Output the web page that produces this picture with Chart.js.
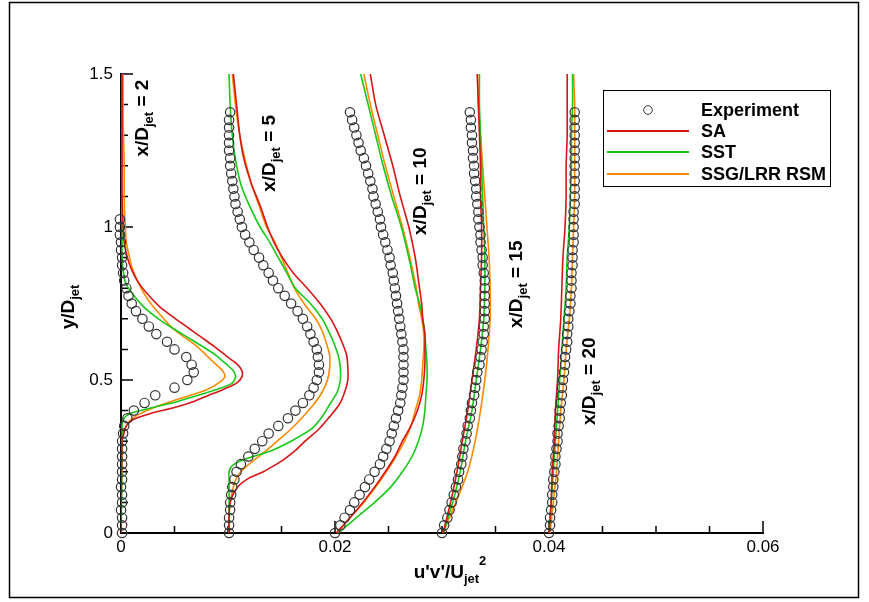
<!DOCTYPE html>
<html>
<head>
<meta charset="utf-8">
<script src="https://cdn.jsdelivr.net/npm/chart.js@4.4.1/dist/chart.umd.min.js"></script>
<style>
  html, body { margin: 0; padding: 0; background: #fff; }
</style>
</head>
<body>
<canvas id="myChart" width="869" height="602"></canvas>
<script>
// stations x/Djet and the shift used to stack the profiles along u'v'/Ujet^2
const stations = [2, 5, 10, 15, 20];
const offsets = [0, 0.01, 0.02, 0.03, 0.04];

// experiment, y/Djet of the measured points
const expY = [0, 0.025, 0.05, 0.075, 0.1, 0.125, 0.15, 0.175, 0.2, 0.225, 0.25, 0.275, 0.3, 0.325, 0.35, 0.375,
  0.4, 0.425, 0.45, 0.475, 0.5, 0.525, 0.55, 0.575, 0.6, 0.625, 0.65, 0.675, 0.7, 0.725, 0.75, 0.775,
  0.8, 0.825, 0.85, 0.875, 0.9, 0.925, 0.95, 0.975, 1.0, 1.025, 1.05, 1.075, 1.1, 1.125, 1.15, 1.175,
  1.2, 1.225, 1.25, 1.275, 1.3, 1.325, 1.35, 1.375];
const exp2 = [0.0001, 0.0001, 0.0001, 0, 0.0001, 0.0001, 0, 0.0001, 0.0001, 0.0001, 0.0001, 0.0001, 0.0001, 0.0002,
  0.0003, 0.0006, 0.0012, 0.0022, 0.0032, 0.0050, 0.0062, 0.0068, 0.0066, 0.0061, 0.0050, 0.0043, 0.0033, 0.0026,
  0.0020, 0.0014, 0.0010, 0.0007, 0.0005, 0.0003, 0.0002, 0.0001, 0.0001, 0, 0, -0.0001, -0.0001, -0.0001];
const exp5 = [0.0001, 0.0001, 0.0001, 0.0002, 0.0002, 0.0003, 0.0004, 0.0006, 0.0008, 0.0012, 0.0019, 0.0025, 0.0032,
  0.0038, 0.0047, 0.0056, 0.0063, 0.0070, 0.0076, 0.0080, 0.0083, 0.0085, 0.0085, 0.0084, 0.0083, 0.0080, 0.0077,
  0.0074, 0.0070, 0.0065, 0.0059, 0.0053, 0.0047, 0.0042, 0.0038, 0.0033, 0.0029, 0.0024, 0.0020, 0.0016, 0.0013,
  0.0011, 0.0009, 0.0007, 0.0006, 0.0005, 0.0004, 0.0003, 0.0002, 0.0002, 0.0001, 0.0001, 0.0001, 0.0001, 0.0001, 0.0002];
const exp10 = [0, 0.0005, 0.0009, 0.0014, 0.0018, 0.0023, 0.0028, 0.0032, 0.0037, 0.0042, 0.0045, 0.0048, 0.0051,
  0.0053, 0.0055, 0.0057, 0.0059, 0.0061, 0.0062, 0.0063, 0.0064, 0.0064, 0.0064, 0.0064, 0.0064, 0.0063, 0.0062,
  0.0061, 0.0060, 0.0059, 0.0058, 0.0057, 0.0056, 0.0055, 0.0054, 0.0052, 0.0051, 0.0049, 0.0047, 0.0045, 0.0043,
  0.0042, 0.0040, 0.0038, 0.0036, 0.0035, 0.0033, 0.0031, 0.0029, 0.0027, 0.0024, 0.0022, 0.0020, 0.0018, 0.0016, 0.0014];
const exp15 = [0, 0.0002, 0.0005, 0.0007, 0.0009, 0.0011, 0.0013, 0.0015, 0.0016, 0.0018, 0.0019, 0.0020, 0.0022,
  0.0023, 0.0024, 0.0026, 0.0027, 0.0028, 0.0030, 0.0031, 0.0032, 0.0033, 0.0035, 0.0036, 0.0037, 0.0038, 0.0039,
  0.0039, 0.0040, 0.0040, 0.0040, 0.0040, 0.0040, 0.0040, 0.0039, 0.0038, 0.0038, 0.0037, 0.0036, 0.0036, 0.0035,
  0.0034, 0.0034, 0.0033, 0.0032, 0.0032, 0.0031, 0.0030, 0.0030, 0.0029, 0.0029, 0.0028, 0.0028, 0.0027, 0.0027, 0.0026];
const exp20 = [0, 0.0001, 0.0001, 0.0002, 0.0003, 0.0003, 0.0004, 0.0004, 0.0005, 0.0006, 0.0006, 0.0007, 0.0008,
  0.0008, 0.0009, 0.0010, 0.0010, 0.0011, 0.0012, 0.0012, 0.0013, 0.0014, 0.0015, 0.0015, 0.0016, 0.0017, 0.0017,
  0.0018, 0.0018, 0.0019, 0.0020, 0.0020, 0.0021, 0.0021, 0.0021, 0.0022, 0.0022, 0.0022, 0.0023, 0.0023, 0.0023,
  0.0023, 0.0023, 0.0024, 0.0024, 0.0024, 0.0024, 0.0024, 0.0024, 0.0024, 0.0024, 0.0024, 0.0024, 0.0024, 0.0024, 0.0024];

// simulations (SA, SST, SSG/LRR RSM), y/Djet per station
const y2 = [0, 0.3, 0.33, 0.35, 0.37, 0.39, 0.41, 0.43, 0.45, 0.47, 0.49, 0.51, 0.53, 0.55, 0.58, 0.61, 0.64, 0.67,
  0.7, 0.74, 0.78, 0.82, 0.86, 0.9, 0.95, 1.0, 1.1, 1.2, 1.35, 1.5];
const sa2 = [0, 0.0001, 0.0003, 0.0005, 0.0011, 0.0027, 0.0050, 0.0068, 0.0082, 0.0096, 0.0108, 0.0113, 0.0113, 0.0109,
  0.0098, 0.0087, 0.0075, 0.0063, 0.0051, 0.0036, 0.0025, 0.0016, 0.0010, 0.0006, 0.0003, 0.0002, 0.0001, 0.0001, 0.0001, 0.0001];
const sst2 = [0, 0.0001, 0.0001, 0.0001, 0.0002, 0.0008, 0.0030, 0.0053, 0.0072, 0.0090, 0.0104, 0.0107, 0.0105, 0.0099,
  0.0089, 0.0076, 0.0062, 0.0048, 0.0035, 0.0021, 0.0011, 0.0004, 0.0002, 0.0001, 0.0001, 0.0001, 0, 0, 0, 0];
const ssg2 = [0, 0.0001, 0.0002, 0.0005, 0.0009, 0.0018, 0.0031, 0.0047, 0.0065, 0.0081, 0.0091, 0.0097, 0.0095, 0.0089,
  0.0080, 0.0071, 0.0059, 0.0048, 0.0040, 0.0030, 0.0022, 0.0016, 0.0011, 0.0008, 0.0005, 0.0004, 0.0003, 0.0003, 0.0002, 0.0002];

const y5 = [0, 0.05, 0.1, 0.15, 0.18, 0.2, 0.22, 0.24, 0.27, 0.3, 0.34, 0.38, 0.42, 0.46, 0.5, 0.54, 0.58, 0.62, 0.66,
  0.7, 0.75, 0.8, 0.85, 0.9, 0.95, 1.0, 1.07, 1.14, 1.22, 1.3, 1.4, 1.5];
const sa5 = [0.0001, 0.0001, 0.0002, 0.0009, 0.0020, 0.0033, 0.0043, 0.0052, 0.0063, 0.0072, 0.0085, 0.0095, 0.0104,
  0.0109, 0.0112, 0.0112, 0.0111, 0.0107, 0.0102, 0.0096, 0.0086, 0.0074, 0.0061, 0.0051, 0.0043, 0.0037, 0.0030,
  0.0022, 0.0015, 0.0011, 0.0008, 0.0005];
const sst5 = [0.0001, 0.0001, 0.0001, 0.0001, 0.0001, 0.0001, 0.0004, 0.0015, 0.0041, 0.0059, 0.0078, 0.0088, 0.0095,
  0.0102, 0.0105, 0.0105, 0.0103, 0.0099, 0.0094, 0.0088, 0.0077, 0.0063, 0.0055, 0.0047, 0.0039, 0.0030, 0.0020,
  0.0012, 0.0007, 0.0004, 0.0002, 0.0001];
const ssg5 = [0.0001, 0.0001, 0.0002, 0.0005, 0.0008, 0.0012, 0.0018, 0.0025, 0.0036, 0.0046, 0.0059, 0.0070, 0.0080,
  0.0088, 0.0093, 0.0095, 0.0095, 0.0092, 0.0088, 0.0082, 0.0071, 0.0062, 0.0056, 0.0050, 0.0044, 0.0036, 0.0029,
  0.0022, 0.0016, 0.0011, 0.0007, 0.0004];

const y10 = [0, 0.05, 0.1, 0.15, 0.2, 0.25, 0.3, 0.35, 0.4, 0.45, 0.5, 0.55, 0.6, 0.65, 0.7, 0.75, 0.8, 0.9, 1.0, 1.1,
  1.2, 1.3, 1.4, 1.5];
const sa10 = [0.0001, 0.0014, 0.0026, 0.0037, 0.0047, 0.0056, 0.0063, 0.0071, 0.0077, 0.0081, 0.0083, 0.0084, 0.0084,
  0.0084, 0.0082, 0.0081, 0.0079, 0.0075, 0.0069, 0.0061, 0.0054, 0.0046, 0.0038, 0.0033];
const sst10 = [0.0003, 0.0020, 0.0037, 0.0052, 0.0063, 0.0072, 0.0078, 0.0082, 0.0084, 0.0085, 0.0086, 0.0086, 0.0085,
  0.0084, 0.0082, 0.0079, 0.0075, 0.0069, 0.0062, 0.0053, 0.0045, 0.0038, 0.0031, 0.0024];
const ssg10 = [0.0002, 0.0014, 0.0027, 0.0038, 0.0048, 0.0057, 0.0065, 0.0071, 0.0075, 0.0079, 0.0081, 0.0082, 0.0083,
  0.0083, 0.0081, 0.0078, 0.0076, 0.0070, 0.0063, 0.0055, 0.0047, 0.0040, 0.0033, 0.0027];

const yFar = [0, 0.1, 0.2, 0.3, 0.4, 0.5, 0.6, 0.7, 0.8, 0.9, 1.0, 1.1, 1.2, 1.3, 1.4, 1.5];
const sa15 = [0.0001, 0.0008, 0.0014, 0.0019, 0.0024, 0.0028, 0.0032, 0.0035, 0.0036, 0.0037, 0.0037, 0.0036, 0.0036, 0.0035, 0.0034, 0.0033];
const sst15 = [0.0001, 0.0010, 0.0017, 0.0022, 0.0028, 0.0032, 0.0036, 0.0039, 0.0040, 0.0040, 0.0039, 0.0038, 0.0037, 0.0036, 0.0035, 0.0035];
const ssg15 = [0.0001, 0.0013, 0.0024, 0.0031, 0.0036, 0.0040, 0.0043, 0.0045, 0.0045, 0.0044, 0.0042, 0.0040, 0.0038, 0.0036, 0.0034, 0.0033];
const sa20 = [0, 0.0002, 0.0003, 0.0005, 0.0006, 0.0008, 0.0009, 0.0011, 0.0012, 0.0013, 0.0015, 0.0016, 0.0016, 0.0017, 0.0017, 0.0017];
const sst20 = [0, 0.0002, 0.0004, 0.0006, 0.0008, 0.0010, 0.0012, 0.0014, 0.0016, 0.0017, 0.0019, 0.0020, 0.0021, 0.0021, 0.0022, 0.0022];
const ssg20 = [0.0001, 0.0004, 0.0007, 0.0009, 0.0011, 0.0014, 0.0016, 0.0019, 0.0021, 0.0022, 0.0023, 0.0024, 0.0024, 0.0024, 0.0024, 0.0023];

const expAll = [exp2, exp5, exp10, exp15, exp20];
const modelY = [y2, y5, y10, yFar, yFar];
const saAll = [sa2, sa5, sa10, sa15, sa20];
const sstAll = [sst2, sst5, sst10, sst15, sst20];
const ssgAll = [ssg2, ssg5, ssg10, ssg15, ssg20];

const FONT = '"Liberation Sans", Arial, Helvetica, sans-serif';
const models = [
  { label: 'SA', color: '#d81515', vals: saAll },
  { label: 'SST', color: '#18c818', vals: sstAll },
  { label: 'SSG/LRR RSM', color: '#ff8a00', vals: ssgAll }
];
const expColor = '#333333';

function toPts(ys, vs, off) {
  return vs.map((v, i) => ({ x: off + v, y: ys[i] }));
}

const datasets = [];
stations.forEach((st, s) => {
  models.forEach(m => {
    datasets.push({
      label: m.label,
      data: toPts(modelY[s], m.vals[s], offsets[s]),
      showLine: true,
      borderColor: m.color,
      borderWidth: 1.6,
      pointRadius: 0,
      tension: 0.25,
      fill: false,
      order: 2
    });
  });
  datasets.push({
    label: 'Experiment',
    data: toPts(expY, expAll[s], offsets[s]),
    showLine: false,
    pointStyle: 'circle',
    pointRadius: 4.7,
    pointBorderWidth: 1.2,
    pointBorderColor: expColor,
    pointBackgroundColor: 'rgba(0,0,0,0)',
    clip: false,
    order: 1
  });
});

// where the station captions sit, in data units
const capPos = [
  { x: 0.00252, y: 1.23 },
  { x: 0.01439, y: 1.115 },
  { x: 0.02855, y: 0.974 },
  { x: 0.03743, y: 0.67 },
  { x: 0.0443, y: 0.353 }
];

function richText(ctx, parts, x, y, angle, center) {
  ctx.save();
  ctx.translate(x, y);
  if (angle) ctx.rotate(angle);
  ctx.textBaseline = 'alphabetic';
  ctx.textAlign = 'left';
  ctx.fillStyle = '#000';
  let total = 0;
  parts.forEach(p => { ctx.font = 'bold ' + p.size + 'px ' + FONT; total += ctx.measureText(p.t).width; });
  let cx = center ? -total / 2 : 0;
  parts.forEach(p => {
    ctx.font = 'bold ' + p.size + 'px ' + FONT;
    ctx.fillText(p.t, cx, p.dy || 0);
    cx += ctx.measureText(p.t).width;
  });
  ctx.restore();
}

const decorations = {
  id: 'decorations',
  beforeDatasetsDraw(chart) {
    const { ctx, scales: { x, y }, chartArea: a } = chart;
    ctx.save();
    ctx.strokeStyle = '#000';
    ctx.lineWidth = 1.5;
    ctx.beginPath();
    for (let i = 0; i <= 12; i++) {
      const px = x.getPixelForValue(i * 0.005);
      const len = i % 4 === 0 ? 12 : 7;
      ctx.moveTo(px, a.bottom);
      ctx.lineTo(px, a.bottom - len);
    }
    for (let i = 0; i <= 15; i++) {
      const py = y.getPixelForValue(i * 0.1);
      const len = i % 5 === 0 ? 12 : 7;
      ctx.moveTo(a.left, py);
      ctx.lineTo(a.left + len, py);
    }
    ctx.stroke();
    ctx.restore();
  },
  afterDraw(chart) {
    const { ctx, scales: { x, y } } = chart;
    ctx.save();
    // outer frame
    ctx.strokeStyle = '#000';
    ctx.lineWidth = 1.5;
    ctx.strokeRect(9.5, 2.5, 849, 595);

    // axis titles
    richText(ctx, [{ t: "u'v'/U", size: 19 }, { t: 'jet', size: 13, dy: 5 }, { t: '2', size: 13, dy: -13 }], 450, 578, 0, true);
    richText(ctx, [{ t: 'y/D', size: 19 }, { t: 'jet', size: 13, dy: 5 }], 74, 307, -Math.PI / 2, true);

    // station captions
    stations.forEach((st, s) => {
      const px = x.getPixelForValue(capPos[s].x);
      const py = y.getPixelForValue(capPos[s].y);
      richText(ctx, [{ t: 'x/D', size: 19 }, { t: 'jet', size: 13, dy: 5 }, { t: ' = ' + st, size: 19 }], px, py, -Math.PI / 2, false);
    });

    // legend
    ctx.lineWidth = 1;
    ctx.strokeStyle = '#000';
    ctx.strokeRect(603.5, 90.5, 227, 96);
    const rows = [110, 131, 152, 174];
    ctx.strokeStyle = expColor;
    ctx.beginPath();
    ctx.arc(648, rows[0], 4.3, 0, Math.PI * 2);
    ctx.stroke();
    models.forEach((m, i) => {
      ctx.strokeStyle = m.color;
      ctx.lineWidth = 2;
      ctx.beginPath();
      ctx.moveTo(607, rows[i + 1]);
      ctx.lineTo(689, rows[i + 1]);
      ctx.stroke();
    });
    ctx.fillStyle = '#000';
    ctx.font = 'bold 18px ' + FONT;
    ctx.textBaseline = 'middle';
    ctx.textAlign = 'left';
    ['Experiment'].concat(models.map(m => m.label)).forEach((t, i) => ctx.fillText(t, 701, rows[i] + 1));
    ctx.restore();
  }
};

const ctx = document.getElementById('myChart').getContext('2d');
const myChart = new Chart(ctx, {
  type: 'scatter',
  data: { datasets: datasets },
  options: {
    responsive: false,
    animation: false,
    devicePixelRatio: 1,
    layout: { padding: { left: 0, right: 106, top: 74, bottom: 0 } },
    plugins: { legend: { display: false }, tooltip: { enabled: false } },
    scales: {
      x: {
        type: 'linear', min: 0, max: 0.06,
        grid: { display: false, drawTicks: false },
        border: { display: true, color: '#000', width: 2 },
        ticks: {
          stepSize: 0.02, padding: 4, color: '#000', maxRotation: 0, autoSkip: false,
          font: { family: FONT, size: 17 },
          callback: v => Math.abs(v) < 1e-9 ? '0' : v.toFixed(2)
        },
        afterFit: s => { s.height = 69; }
      },
      y: {
        type: 'linear', min: 0, max: 1.5,
        grid: { display: false, drawTicks: false },
        border: { display: true, color: '#000', width: 2 },
        ticks: {
          stepSize: 0.5, padding: 8, color: '#000',
          font: { family: FONT, size: 17 },
          callback: v => String(v)
        },
        afterFit: s => { s.width = 121; }
      }
    }
  },
  plugins: [decorations]
});
</script>
</body>
</html>
